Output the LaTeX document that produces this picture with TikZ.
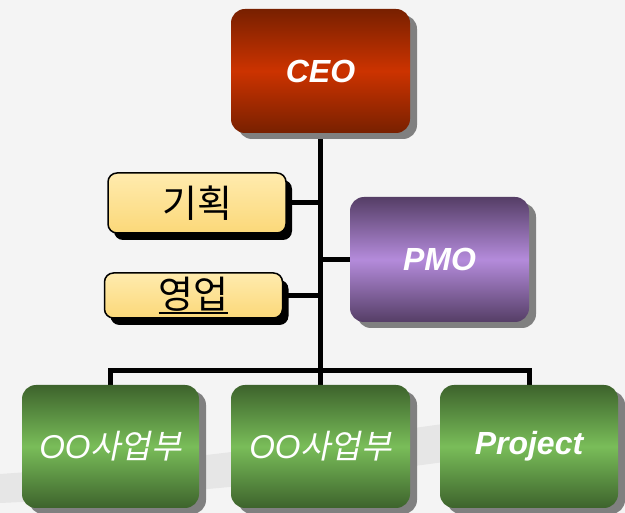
\documentclass[tikz,border=0pt]{standalone}
\usepackage{fontspec}
\setmainfont{Liberation Sans}
\newfontfamily\kr{Noto Sans CJK KR}
\newfontfamily\krit[FakeSlant=0.2]{Noto Sans CJK KR}
\usetikzlibrary{shadows}
\pgfdeclarelayer{background}
\pgfsetlayers{background,main}
\definecolor{bgcol}{HTML}{F4F4F4}
\definecolor{swooshcol}{HTML}{E6E6E6}
\definecolor{ceoD}{HTML}{782000}
\definecolor{ceoM}{HTML}{CC3300}
\definecolor{pmoD}{HTML}{553E66}
\definecolor{pmoM}{HTML}{B48BDB}
\definecolor{grnD}{HTML}{3D632C}
\definecolor{grnM}{HTML}{79BD59}
\definecolor{yelT}{HTML}{FFEBAE}
\definecolor{yelB}{HTML}{FBD879}
\newcommand{\myul}[1]{\setbox0\hbox{#1}\rlap{\raisebox{-5pt}{\rule{\wd0}{2pt}}}\box0}
\begin{document}
\begin{tikzpicture}[x=1pt,y=-1pt,
  darkbox/.style={rounded corners=14pt, inner sep=0pt, align=center, text=white,
    minimum width=179pt, minimum height=124pt,
    drop shadow={shadow xshift=7pt,shadow yshift=-6pt,fill=gray,opacity=1},
    font=\fontsize{32}{38}\selectfont\bfseries\itshape},
  ceobox/.style={darkbox, top color=ceoD, bottom color=ceoD, middle color=ceoM},
  pmobox/.style={darkbox, top color=pmoD, bottom color=pmoD, middle color=pmoM},
  grnbox/.style={darkbox, top color=grnD, bottom color=grnD, middle color=grnM},
  yelbox/.style={rounded corners=9pt, inner sep=0pt, draw=black, line width=1.5pt,
    minimum width=178pt, top color=yelT, bottom color=yelB,
    drop shadow={shadow xshift=6pt,shadow yshift=-7pt,fill=black,opacity=1},
    font=\kr\fontsize{38}{42}\selectfont},
  conn/.style={draw=black, line width=5pt}
]
\useasboundingbox (0,0) rectangle (625,513);
\node[ceobox] (ceo) at (320.5,71) {CEO};
\node[yelbox, minimum height=60pt] (gh) at (197,203) {기획};
\node[yelbox, minimum height=45pt] (yu) at (193.5,295.5) {\myul{영업}};
\node[pmobox, minimum height=125pt] (pmo) at (439.5,259.5) {PMO};
\node[grnbox, minimum width=177pt, minimum height=123pt] (b1) at (110.5,446.5) {\fontsize{33}{38}\fontseries{m}\selectfont OO{\krit 사업부}};
\node[grnbox, minimum height=123pt] (b2) at (320.5,446.5) {\fontsize{33}{38}\fontseries{m}\selectfont OO{\krit 사업부}};
\node[grnbox, minimum width=178pt, minimum height=123pt] (b3) at (529,446.5) {Project};
\coordinate (j) at (320.5,371);
\begin{pgfonlayer}{background}
\fill[bgcol] (0,0) rectangle (625,513);
\fill[swooshcol] (0,474) .. controls (250,457) and (450,420) .. (625,400)
  -- (625,436) .. controls (450,462) and (250,492) .. (0,503) -- cycle;
\draw[conn] (ceo.south) -- (b2.north);
\draw[conn] (b1.north) |- (j) -| (b3.north);
\draw[conn] (gh.east) -- (gh.east -| ceo.south);
\draw[conn] (yu.east) -- (yu.east -| ceo.south);
\draw[conn] (pmo.west) -- (pmo.west -| ceo.south);
\end{pgfonlayer}
\end{tikzpicture}
\end{document}
